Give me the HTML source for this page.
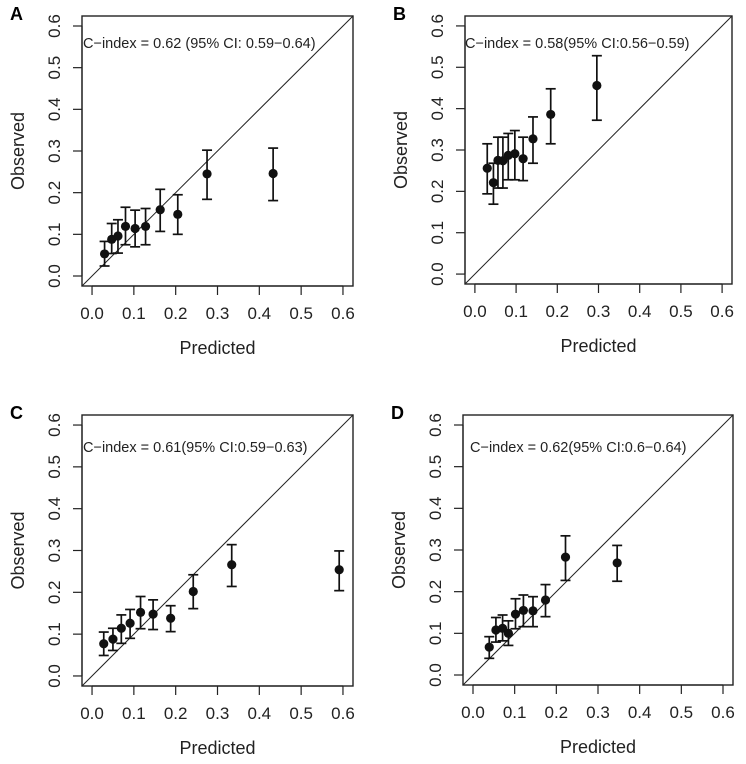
<!DOCTYPE html>
<html><head><meta charset="utf-8">
<style>
html,body{margin:0;padding:0;background:#fff;}
svg{display:block;font-family:"Liberation Sans",Arial,sans-serif;}
</style></head>
<body>
<svg id="chart" width="746" height="764" viewBox="0 0 746 764"></svg>
<script>
const NS="http://www.w3.org/2000/svg";
const panelLabels=["A","B","C","D"];
const cindexTexts=["C\u2212index = 0.62 (95% CI: 0.59\u22120.64)","C\u2212index = 0.58(95% CI:0.56\u22120.59)","C\u2212index = 0.61(95% CI:0.59\u22120.63)","C\u2212index = 0.62(95% CI:0.6\u22120.64)"];
const tickValues=[0,0.1,0.2,0.3,0.4,0.5,0.6];
const tickLabels=["0.0","0.1","0.2","0.3","0.4","0.5","0.6"];
const predA=[0.03,0.047,0.062,0.08,0.103,0.128,0.163,0.205,0.275,0.433];
const obsA=[0.053,0.088,0.096,0.119,0.114,0.119,0.159,0.148,0.245,0.246];
const loA=[0.024,0.054,0.055,0.075,0.07,0.075,0.107,0.1,0.184,0.181];
const hiA=[0.083,0.126,0.135,0.165,0.158,0.162,0.208,0.195,0.302,0.307];
const predB=[0.03,0.045,0.056,0.068,0.081,0.097,0.117,0.141,0.184,0.296];
const obsB=[0.256,0.221,0.275,0.274,0.287,0.291,0.279,0.327,0.386,0.456];
const loB=[0.194,0.169,0.208,0.208,0.228,0.228,0.226,0.268,0.315,0.372];
const hiB=[0.315,0.268,0.331,0.331,0.34,0.347,0.331,0.38,0.448,0.528];
const predC=[0.028,0.05,0.07,0.091,0.116,0.146,0.188,0.242,0.334,0.591];
const obsC=[0.077,0.088,0.114,0.126,0.152,0.148,0.138,0.202,0.266,0.254];
const loC=[0.049,0.061,0.078,0.09,0.113,0.111,0.106,0.161,0.214,0.204];
const hiC=[0.105,0.114,0.146,0.159,0.19,0.182,0.168,0.242,0.314,0.299];
const predD=[0.039,0.055,0.071,0.085,0.102,0.121,0.144,0.174,0.222,0.346];
const obsD=[0.067,0.108,0.112,0.1,0.146,0.155,0.154,0.18,0.283,0.269];
const loD=[0.04,0.079,0.082,0.071,0.111,0.116,0.116,0.14,0.227,0.225];
const hiD=[0.092,0.138,0.144,0.13,0.183,0.192,0.188,0.217,0.334,0.311];

const svg=document.getElementById('chart');
function mk(tag,attrs,parent){const e=document.createElementNS(NS,tag);for(const k in attrs)e.setAttribute(k,attrs[k]);(parent||svg).appendChild(e);return e;}

const boxes=[[82,353,16,286,43],[465,732,16,284,43],[82,353,415,686,447],[463,733,415,685,447]];
const datasets=[[predA,obsA,loA,hiA],[predB,obsB,loB,hiB],[predC,obsC,loC,hiC],[predD,obsD,loD,hiD]];
const names=["a","b","c","d"];

for(let p=0;p<4;p++){
  const [L,R,T,B,ty]=boxes[p];
  const g=mk('g',{});
  
  
  const x=v=>L+(v+0.024)/0.648*(R-L);
  const y=v=>B-(v+0.024)/0.648*(B-T);
  const lab=mk('text',{x:L-72,y:T+4,'font-size':18,'font-weight':'bold',fill:'#000'},g);
  lab.textContent=panelLabels[p];
  
  
  const box=mk('rect',{x:L,y:T,width:R-L,height:B-T,fill:'none',stroke:'#222','stroke-width':1.4},g);
  
  
  const diag=mk('line',{x1:x(-0.024),y1:y(-0.024),x2:x(0.624),y2:y(0.624),stroke:'#222','stroke-width':1},g);
  
  
  const xa=mk('g',{},g);
  
  
  const ya=mk('g',{},g);
  
  
  mk('line',{x1:x(0),x2:x(0.6),y1:B,y2:B,stroke:'#222','stroke-width':1.2},xa);
  mk('line',{x1:L,x2:L,y1:y(0),y2:y(0.6),stroke:'#222','stroke-width':1.2},ya);
  for(let i=0;i<tickValues.length;i++){
    const xv=x(tickValues[i]);
    mk('line',{x1:xv,x2:xv,y1:B,y2:B+9,stroke:'#222','stroke-width':1.2},xa);
    const t=mk('text',{x:xv,y:B+33,'font-size':17,'text-anchor':'middle',fill:'#222'},xa);
    t.textContent=tickLabels[i];
    
    
    const yv=y(tickValues[i]);
    mk('line',{x1:L,x2:L-9,y1:yv,y2:yv,stroke:'#222','stroke-width':1.2},ya);
    const u=mk('text',{x:0,y:0,'font-size':17,'text-anchor':'middle',fill:'#222',transform:`translate(${L-22},${yv}) rotate(-90)`},ya);
    u.textContent=tickLabels[i];
    
    
  }
  const xt=mk('text',{x:(L+R)/2,y:B+68,'font-size':18,'text-anchor':'middle',fill:'#222'},g);
  xt.textContent="Predicted";
  
  
  const ytt=mk('text',{x:0,y:0,'font-size':18,'text-anchor':'middle',fill:'#222',transform:`translate(${L-58},${(T+B)/2}) rotate(-90)`},g);
  ytt.textContent="Observed";
  
  
  const ct=mk('text',{x:L+1,y:ty+5,'font-size':14.5,fill:'#222'},g);
  if(p===1)ct.setAttribute('x',L);
  if(p===3)ct.setAttribute('x',L+7);
  ct.textContent=cindexTexts[p];
  
  
  const [pr,ob,lo,hi]=datasets[p];
  for(let i=0;i<pr.length;i++){
    const pg=mk('g',{},g);
    
    
    const cx=x(pr[i]);
    mk('line',{x1:cx,x2:cx,y1:y(lo[i]),y2:y(hi[i]),stroke:'#111','stroke-width':1.7},pg);
    mk('line',{x1:cx-5,x2:cx+5,y1:y(lo[i]),y2:y(lo[i]),stroke:'#111','stroke-width':1.7},pg);
    mk('line',{x1:cx-5,x2:cx+5,y1:y(hi[i]),y2:y(hi[i]),stroke:'#111','stroke-width':1.7},pg);
    mk('circle',{cx:cx,cy:y(ob[i]),r:4.6,fill:'#111'},pg);
  }
}
</script>
</body></html>
